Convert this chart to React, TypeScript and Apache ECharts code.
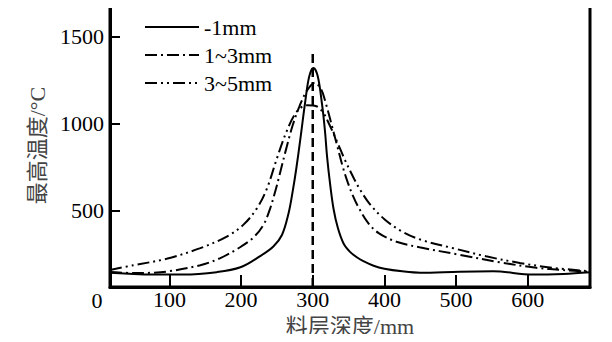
import React, { useEffect, useRef } from "react";
import * as echarts from "echarts";

const X_MIN = 17;
const X_MAX = 687;
const Y_MIN = 59;
const Y_MAX = 1688;

const xTicks = [100, 200, 300, 400, 500, 600];
const yTicks = [500, 1000, 1500];

const seriesNames = ["-1mm", "1~3mm", "3~5mm"];

const x1 = [17, 50, 80, 119, 166, 199, 226, 245, 257, 266, 272, 277, 283, 289, 295, 301, 307, 313, 317, 320, 324, 329, 335, 343, 352, 361, 370, 385, 400, 425, 450, 505, 552, 607, 650, 687];
const y1 = [141, 135, 131, 131, 145, 173, 236, 293, 359, 480, 610, 740, 920, 1110, 1270, 1320, 1272, 1110, 960, 810, 660, 510, 400, 310, 262, 232, 210, 182, 165, 150, 142, 148, 150, 131, 135, 145];

const x2 = [17, 50, 73, 96, 143, 171, 198, 217, 231, 240, 247, 254, 262, 272, 282, 292, 303, 312, 318, 324, 333, 342, 349, 356, 363, 377, 392, 417, 449, 505, 561, 612, 650, 687];
const y2 = [146, 140, 141, 148, 185, 226, 287, 344, 416, 505, 600, 710, 840, 990, 1105, 1190, 1235, 1195, 1120, 1030, 890, 750, 660, 585, 525, 430, 370, 320, 288, 245, 202, 170, 157, 147];

const x3 = [17, 50, 96, 143, 180, 203, 222, 236, 250, 264, 278, 292, 305, 315, 322, 333, 345, 358, 366, 380, 400, 425, 452, 496, 542, 589, 635, 687];
const y3 = [158, 185, 222, 283, 350, 417, 512, 626, 800, 960, 1070, 1105, 1100, 1060, 1005, 905, 790, 680, 620, 535, 450, 378, 330, 283, 236, 198, 170, 150];

const refX = 300;
const refTop = 1407;

const SERIF = "'Liberation Serif', 'Times New Roman', serif";
const CJK = "'Liberation Serif', 'Noto Sans CJK SC', serif";

function zip(xs: number[], ys: number[]) {
  return xs.map((x, i) => [x, ys[i]]);
}

export default function App() {
  const ref = useRef<HTMLDivElement>(null);
  useEffect(() => {
    if (!ref.current) return;
    const chart = echarts.init(ref.current, undefined, { renderer: "svg" });
    const lineBase = { type: "line", symbol: "none", smooth: 0.35, silent: true };
    chart.setOption({
      animation: false,
      backgroundColor: "#fff",
      grid: {
        left: 110,
        right: 22,
        top: 4,
        bottom: 52,
        show: true,
        borderColor: "#000",
        borderWidth: 3,
      },
      legend: {
        data: seriesNames,
        orient: "vertical",
        left: 139,
        top: 11,
        itemWidth: 54,
        itemHeight: 14,
        itemGap: 6,
        itemStyle: { opacity: 0 },
        textStyle: { fontFamily: SERIF, fontSize: 22, color: "#000", lineHeight: 22 },
      },
      xAxis: {
        type: "value",
        min: X_MIN,
        max: X_MAX,
        name: "料层深度/mm",
        nameLocation: "middle",
        nameGap: 25,
        nameTextStyle: { fontFamily: CJK, fontSize: 22, color: "#444" },
        axisLine: { show: true, lineStyle: { color: "#000", width: 3 } },
        axisTick: {
          show: true,
          inside: true,
          length: 12,
          customValues: xTicks,
          lineStyle: { color: "#000", width: 2 },
        },
        axisLabel: {
          customValues: xTicks,
          formatter: (v: number) => String(v),
          margin: 1,
          fontFamily: SERIF,
          fontSize: 22,
          color: "#000",
        },
        splitLine: { show: false },
      },
      yAxis: {
        type: "value",
        min: Y_MIN,
        max: Y_MAX,
        name: "最高温度/°C",
        nameLocation: "middle",
        nameGap: 62,
        nameRotate: 90,
        nameTextStyle: { fontFamily: CJK, fontSize: 22, color: "#444" },
        axisLine: { show: true, lineStyle: { color: "#000", width: 3 } },
        axisTick: {
          show: true,
          inside: true,
          length: 10,
          customValues: yTicks,
          lineStyle: { color: "#000", width: 2 },
        },
        axisLabel: {
          customValues: yTicks,
          formatter: (v: number) => String(v),
          margin: 6,
          fontFamily: SERIF,
          fontSize: 22,
          color: "#000",
        },
        splitLine: { show: false },
      },
      graphic: [
        {
          type: "text",
          x: 97,
          y: 300,
          style: {
            text: "0",
            fontFamily: SERIF,
            fontSize: 22,
            fill: "#000",
            align: "center",
            verticalAlign: "middle",
          },
        },
      ],
      series: [
        {
          ...lineBase,
          name: seriesNames[0],
          data: zip(x1, y1),
          lineStyle: { color: "#000", width: 2, type: "solid" },
          itemStyle: { color: "#000" },
        },
        {
          ...lineBase,
          name: seriesNames[1],
          data: zip(x2, y2),
          lineStyle: { color: "#000", width: 2, type: [12, 4, 2, 4] },
          itemStyle: { color: "#000" },
        },
        {
          ...lineBase,
          name: seriesNames[2],
          data: zip(x3, y3),
          lineStyle: { color: "#000", width: 2, type: [12, 4, 2, 4, 2, 4] },
          itemStyle: { color: "#000" },
        },
        {
          type: "line",
          name: "ref",
          symbol: "none",
          silent: true,
          data: [
            [refX, Y_MIN],
            [refX, refTop],
          ],
          lineStyle: { color: "#000", width: 2.5, type: [9, 5] },
        },
      ],
    });
    return () => chart.dispose();
  }, []);
  return <div ref={ref} style={{ width: 612, height: 342, margin: -8 }} />;
}
